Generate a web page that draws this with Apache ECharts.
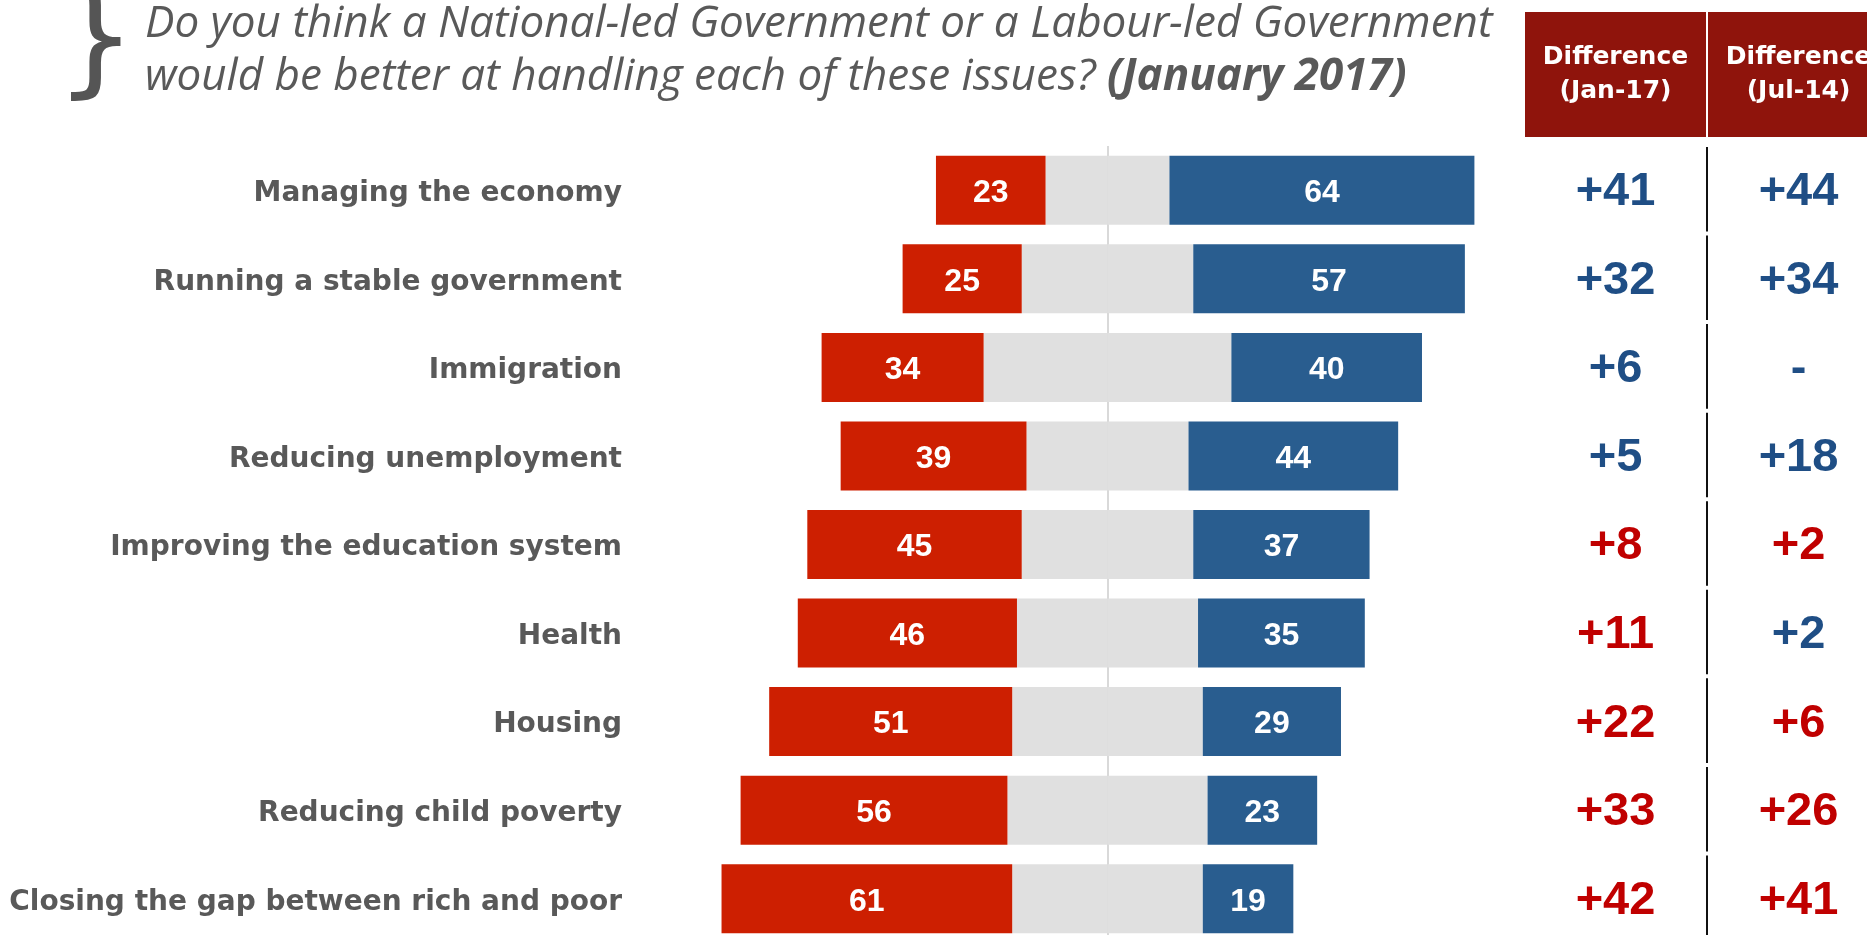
<!DOCTYPE html>
<html>
<head>
<meta charset="utf-8">
<script src="https://cdn.jsdelivr.net/npm/echarts@6/dist/echarts.min.js"></script>
<style>
html,body{margin:0;padding:0;background:#fff;}
#chart{width:1867px;height:935px;}
</style>
</head>
<body>
<div id="chart"></div>
<script>
// ---- data ----
var categories = ['Managing the economy','Running a stable government','Immigration','Reducing unemployment','Improving the education system','Health','Housing','Reducing child poverty','Closing the gap between rich and poor'];
var labourLed = [23,25,34,39,45,46,51,56,61];
var nationalLed = [64,57,40,44,37,35,29,23,19];
var dontKnow = [13,18,26,17,18,19,20,21,20];
var columnHeaders = ['Difference\n(Jan-17)','Difference\n(Jul-14)'];
var diffJan17 = ['+41','+32','+6','+5','+8','+11','+22','+33','+42'];
var leadJan17 = ['National','National','National','National','Labour','Labour','Labour','Labour','Labour'];
var diffJul14 = ['+44','+34','-','+18','+2','+2','+6','+26','+41'];
var leadJul14 = ['National','National','National','National','Labour','National','Labour','Labour','Labour'];
var titleLine1 = 'Do you think a National-led Government or a Labour-led Government';
var titleLine2 = 'would be better at handling each of these issues? ';
var titleDate = '(January 2017)';

// ---- styles ----
var RED = '#CD1F01', BLUE = '#295D8F', GRAY = '#E0E0E0';
var TXT_RED = '#C00000', TXT_BLUE = '#1F4E85';
var leadColor = function(l){ return l === 'Labour' ? TXT_RED : TXT_BLUE; };

var chart = echarts.init(document.getElementById('chart'), null, {renderer:'canvas'});

var barLabel = {
  show:true, position:'inside', color:'#fff', fontWeight:'bold',
  fontFamily:'Liberation Sans', fontSize:32, offset:[0,3],
  formatter:function(p){ return Math.abs(p.value); }
};

var tableData = [];
diffJan17.forEach(function(t,i){ tableData.push({name:t, value:[0,i], label:{color:leadColor(leadJan17[i])}}); });
diffJul14.forEach(function(t,i){ tableData.push({name:t, value:[1,i], label:{color:leadColor(leadJul14[i])}}); });

var catStyle = {color:'#595959', fontWeight:'bold', fontFamily:'DejaVu Sans', fontSize:28, padding:[7,0,0,0]};

var option = {
  backgroundColor:'#fff',
  animation:false,
  title:[
    {
      text: titleLine1 + '\n' + titleLine2 + '{b|' + titleDate + '}',
      left:140, top:-7,
      textStyle:{
        fontFamily:'Open Sans', fontStyle:'italic', fontWeight:'normal',
        fontSize:44, lineHeight:53, color:'#595959',
        rich:{ b:{fontFamily:'Open Sans', fontStyle:'italic', fontWeight:'bold', fontSize:44, lineHeight:53, color:'#595959'} }
      }
    },
    {
      text:'}', left:50, top:-28,
      textStyle:{fontFamily:'DejaVu Sans', fontWeight:'normal', fontSize:128, color:'#555555', lineHeight:140}
    }
  ],
  grid:[
    {left:631, width:953, top:146, height:797, outerBoundsMode:'none'},
    {left:1524, width:366, top:146, height:797, outerBoundsMode:'none'}
  ],
  xAxis:[
    {
      type:'value', gridIndex:0, min:-100, max:100, interval:100,
      axisLine:{show:false}, axisTick:{show:false}, axisLabel:{show:false},
      splitLine:{show:true, lineStyle:{color:['rgba(0,0,0,0)','#D9D9D9','rgba(0,0,0,0)'], width:2}}
    },
    {
      type:'category', gridIndex:1, position:'top', data:columnHeaders,
      axisLine:{show:false}, axisTick:{show:false}, splitLine:{show:false},
      axisLabel:{
        interval:0, margin:9, color:'#fff', fontWeight:'bold', fontFamily:'DejaVu Sans',
        fontSize:25, lineHeight:34.5, backgroundColor:'#8F140C',
        width:181, padding:[28,0,28,0], align:'center'
      }
    }
  ],
  yAxis:[
    {
      type:'category', gridIndex:0, data:categories, inverse:true,
      axisLine:{show:false}, axisTick:{show:false}, splitLine:{show:false},
      axisLabel:{margin:9, formatter:'{c|{value}}', rich:{c:catStyle}}
    },
    {
      type:'category', gridIndex:1, data:categories, inverse:true, show:false
    }
  ],
  series:[
    {name:"Don't know", type:'bar', stack:'all', xAxisIndex:0, yAxisIndex:0, barWidth:69,
     itemStyle:{color:GRAY}, data:dontKnow.map(function(v){return -v;})},
    {name:'Labour-led', type:'bar', stack:'all', xAxisIndex:0, yAxisIndex:0, barWidth:69,
     itemStyle:{color:RED}, label:barLabel, data:labourLed.map(function(v){return -v;})},
    {name:"Don't know ", type:'bar', stack:'all', xAxisIndex:0, yAxisIndex:0, barWidth:69,
     itemStyle:{color:GRAY}, data:dontKnow.slice()},
    {name:'National-led', type:'bar', stack:'all', xAxisIndex:0, yAxisIndex:0, barWidth:69,
     itemStyle:{color:BLUE}, label:barLabel, data:nationalLed.slice()},
    {
      type:'custom', xAxisIndex:1, yAxisIndex:1, silent:true,
      data:categories.map(function(c,i){return [0,i];}),
      renderItem:function(params, api){
        var c = api.coord([api.value(0), api.value(1)]);
        var s = api.size([1,1]);
        var x = c[0] + s[0]/2;
        return {type:'line', shape:{x1:x, y1:c[1]-s[1]/2+1, x2:x, y2:c[1]+s[1]/2-3},
                style:{stroke:'#111', lineWidth:2}};
      }
    },
    {
      type:'scatter', xAxisIndex:1, yAxisIndex:1, symbolSize:0, silent:true,
      itemStyle:{opacity:1},
      data:tableData,
      label:{show:true, position:'inside', formatter:'{b}', fontFamily:'Liberation Sans', fontWeight:'bold', fontSize:47, offset:[0,2]}
    }
  ]
};
chart.setOption(option);
</script>
</body>
</html>
